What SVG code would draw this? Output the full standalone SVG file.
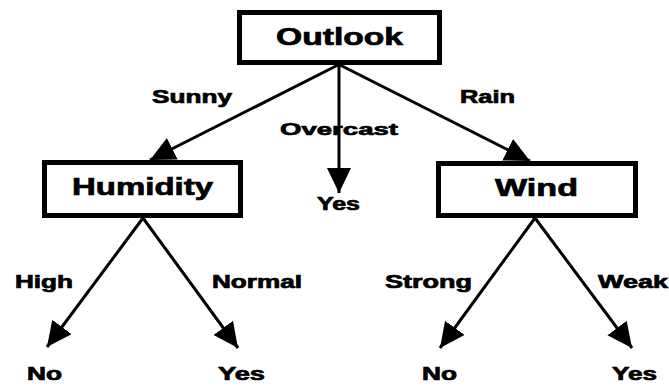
<svg xmlns="http://www.w3.org/2000/svg" width="669" height="386" viewBox="0 0 669 386">
  <style>
    .box { fill: #ffffff; stroke: #000000; stroke-width: 5; }
    .edge { stroke: #000000; stroke-width: 3; fill: none; marker-end: url(#arrow); }
    text { font-family: "Liberation Sans", Arial, sans-serif; font-weight: bold; fill: #000000; stroke: #000000; stroke-width: 0.7; }
    .node { font-size: 24px; }
    .lbl { font-size: 18px; }
  </style>
  <defs>
    <marker id="arrow" markerUnits="userSpaceOnUse" markerWidth="28" markerHeight="26" refX="25" refY="12" orient="auto">
      <path d="M0,0 L25,12 L0,24 Z" fill="#000000"/>
    </marker>
  </defs>
  <rect width="669" height="386" fill="#ffffff"/>

  <g id="connectors">
    <line class="edge" x1="338" y1="65" x2="150" y2="160"/>
    <line class="edge" x1="339" y1="65" x2="339" y2="193"/>
    <line class="edge" x1="340" y1="65" x2="530" y2="161"/>
    <line class="edge" x1="143" y1="218" x2="47" y2="347"/>
    <line class="edge" x1="143" y1="218" x2="238" y2="348"/>
    <line class="edge" x1="535" y1="218" x2="440" y2="348"/>
    <line class="edge" x1="535" y1="218" x2="632" y2="348"/>
  </g>

  <g id="edge-labels">
    <text class="lbl" x="152" y="103" textLength="80" lengthAdjust="spacingAndGlyphs">Sunny</text>
    <text class="lbl" x="280" y="135" textLength="118" lengthAdjust="spacingAndGlyphs" style="font-size:17px">Overcast</text>
    <text class="lbl" x="460" y="103" textLength="55" lengthAdjust="spacingAndGlyphs">Rain</text>
    <text class="lbl" x="15" y="288" textLength="58" lengthAdjust="spacingAndGlyphs">High</text>
    <text class="lbl" x="212" y="288" textLength="90" lengthAdjust="spacingAndGlyphs">Normal</text>
    <text class="lbl" x="385" y="288" textLength="87" lengthAdjust="spacingAndGlyphs">Strong</text>
    <text class="lbl" x="598" y="288" textLength="70" lengthAdjust="spacingAndGlyphs">Weak</text>
  </g>

  <g id="node-outlook">
    <rect class="box" x="239.5" y="12.5" width="200" height="50"/>
    <text class="node" x="276" y="45" textLength="127" lengthAdjust="spacingAndGlyphs">Outlook</text>
  </g>
  <g id="node-humidity">
    <rect class="box" x="44.5" y="162.5" width="196" height="53"/>
    <text class="node" x="72" y="195" textLength="141" lengthAdjust="spacingAndGlyphs">Humidity</text>
  </g>
  <g id="node-wind">
    <rect class="box" x="438.5" y="163.5" width="197" height="52"/>
    <text class="node" x="495" y="196" textLength="83" lengthAdjust="spacingAndGlyphs">Wind</text>
  </g>
  <g id="leaf-overcast-yes">
    <text class="lbl" x="317" y="210" textLength="43" lengthAdjust="spacingAndGlyphs">Yes</text>
  </g>
  <g id="leaf-high-no">
    <text class="lbl" x="27" y="380" textLength="35" lengthAdjust="spacingAndGlyphs">No</text>
  </g>
  <g id="leaf-normal-yes">
    <text class="lbl" x="218" y="380" textLength="47" lengthAdjust="spacingAndGlyphs">Yes</text>
  </g>
  <g id="leaf-strong-no">
    <text class="lbl" x="422" y="380" textLength="35" lengthAdjust="spacingAndGlyphs">No</text>
  </g>
  <g id="leaf-weak-yes">
    <text class="lbl" x="612" y="380" textLength="45" lengthAdjust="spacingAndGlyphs">Yes</text>
  </g>
</svg>
